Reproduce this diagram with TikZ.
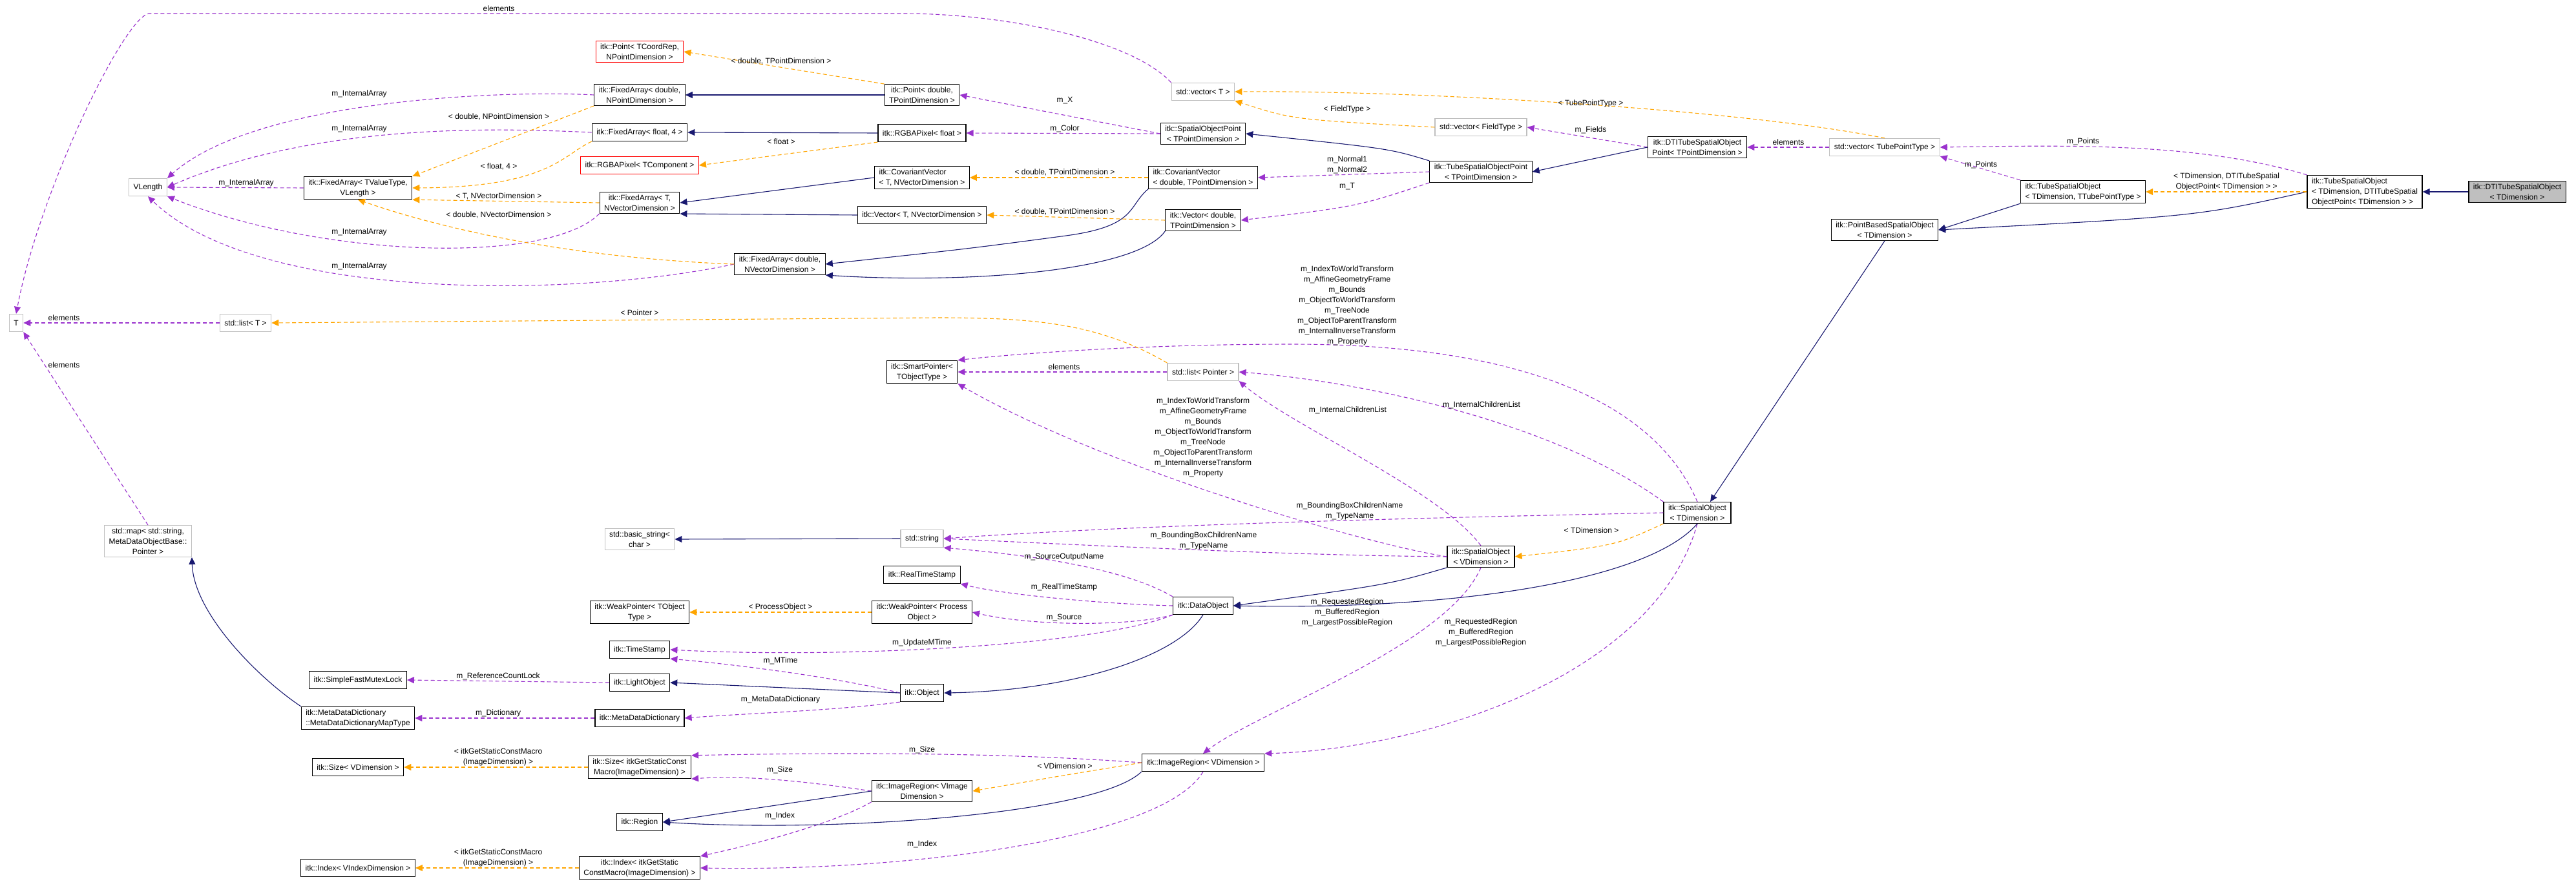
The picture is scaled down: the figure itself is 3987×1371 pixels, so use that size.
\documentclass[tikz,border=0pt]{standalone}
\usepackage{fontspec}
\setmainfont{Liberation Sans}
\usetikzlibrary{arrows.meta}
\definecolor{purp}{HTML}{9A32CD}
\definecolor{navy}{HTML}{191970}
\definecolor{orng}{HTML}{FFA500}
\begin{document}
\begin{tikzpicture}[x=1pt,y=-1pt,
  every node/.style={font=\fontsize{12}{16}\selectfont},
  box/.style={draw=black,fill=white,line width=1.2pt,align=center,inner xsep=7pt,inner ysep=4pt,minimum height=27pt},
  lbox/.style={box,align=left},
  gbox/.style={box,draw=gray!50},
  rbox/.style={box,draw=red},
  lab/.style={align=center,inner sep=0pt},
  use/.style={draw=purp,line width=1.1pt,dash pattern=on 6pt off 4pt,-{Triangle[length=11pt,width=10pt]}},
  inh/.style={draw=navy,line width=1.1pt,-{Triangle[length=11pt,width=10pt]}},
  tpl/.style={draw=orng,line width=1.1pt,dash pattern=on 6pt off 4pt,-{Triangle[length=11pt,width=10pt]}}]
\useasboundingbox (0,0) rectangle (3987,1371);
% nodes
\node[gbox] (vlen) at (229,290) {VLength};
\node[box] (faTV) at (554,291) {itk::FixedArray< TValueType,\\ VLength >};
\node[gbox] (Tn) at (25,500) {T};
\node[gbox] (listT) at (380,500) {std::list< T >};
\node[gbox] (map) at (229,838) {std::map< std::string,\\ MetaDataObjectBase::\\ Pointer >};
\node[rbox] (ptTC) at (990,80) {itk::Point< TCoordRep,\\ NPointDimension >};
\node[box] (faDNP) at (990,147) {itk::FixedArray< double,\\ NPointDimension >};
\node[box] (faF4) at (990,205) {itk::FixedArray< float, 4 >};
\node[rbox] (rgbaT) at (990,256) {itk::RGBAPixel< TComponent >};
\node[box] (faTNV) at (990,314) {itk::FixedArray< T,\\ NVectorDimension >};
\node[gbox] (bstr) at (990,835) {std::basic\_string<\\ char >};
\node[box] (wpT) at (990,948) {itk::WeakPointer< TObject\\ Type >};
\node[box] (ts) at (990,1006) {itk::TimeStamp};
\node[box] (lo) at (990,1057) {itk::LightObject};
\node[box] (mdd) at (990,1112) {itk::MetaDataDictionary};
\node[box] (sizeG) at (990,1188) {itk::Size< itkGetStaticConst\\ Macro(ImageDimension) >};
\node[box] (region) at (990,1273) {itk::Region};
\node[box] (indexG) at (990,1344) {itk::Index< itkGetStatic\\ ConstMacro(ImageDimension) >};
\node[box] (mutex) at (554,1053) {itk::SimpleFastMutexLock};
\node[lbox] (mddmap) at (554,1112) {itk::MetaDataDictionary\\ ::MetaDataDictionaryMapType};
\node[box] (sizeV) at (554,1188) {itk::Size< VDimension >};
\node[box] (indexV) at (554,1344) {itk::Index< VIndexDimension >};
\node[box] (ptD) at (1427,147) {itk::Point< double,\\ TPointDimension >};
\node[box] (rgbaF) at (1427,206) {itk::RGBAPixel< float >};
\node[lbox] (cvT) at (1427,275) {itk::CovariantVector\\ < T, NVectorDimension >};
\node[box] (vecT) at (1427,333) {itk::Vector< T, NVectorDimension >};
\node[box] (faDNV) at (1207,409) {itk::FixedArray< double,\\ NVectorDimension >};
\node[box] (sp) at (1427,576) {itk::SmartPointer<\\ TObjectType >};
\node[gbox] (str) at (1427,834) {std::string};
\node[box] (rts) at (1427,890) {itk::RealTimeStamp};
\node[box] (wpP) at (1427,948) {itk::WeakPointer< Process\\ Object >};
\node[box] (obj) at (1427,1073) {itk::Object};
\node[box] (irVI) at (1427,1225) {itk::ImageRegion< VImage\\ Dimension >};
\node[gbox] (stdvecT) at (1862,142) {std::vector< T >};
\node[box] (sop) at (1862,207) {itk::SpatialObjectPoint\\ < TPointDimension >};
\node[lbox] (cvD) at (1862,275) {itk::CovariantVector\\ < double, TPointDimension >};
\node[box] (vecD) at (1862,341) {itk::Vector< double,\\ TPointDimension >};
\node[gbox] (listP) at (1862,576) {std::list< Pointer >};
\node[box] (dobj) at (1862,938) {itk::DataObject};
\node[box] (irV) at (1862,1181) {itk::ImageRegion< VDimension >};
\node[gbox] (vecF) at (2292,197) {std::vector< FieldType >};
\node[box] (tsop) at (2292,266) {itk::TubeSpatialObjectPoint\\ < TPointDimension >};
\node[box] (soV) at (2292,862) {itk::SpatialObject\\ < VDimension >};
\node[box] (dtsop) at (2627,228) {itk::DTITubeSpatialObject\\ Point< TPointDimension >};
\node[box] (soT) at (2627,794) {itk::SpatialObject\\ < TDimension >};
\node[gbox] (vecTP) at (2917,228) {std::vector< TubePointType >};
\node[box] (pbso) at (2917,356) {itk::PointBasedSpatialObject\\ < TDimension >};
\node[lbox] (tso) at (3224,297) {itk::TubeSpatialObject\\ < TDimension, TTubePointType >};
\node[lbox] (tsoD) at (3660,297) {itk::TubeSpatialObject\\ < TDimension, DTITubeSpatial\\ ObjectPoint< TDimension > >};
\node[box,fill=gray!50] (dtso) at (3896,297) {itk::DTITubeSpatialObject\\ < TDimension >};
% purple usage
\draw[use] (stdvecT.north west) .. controls (1750,60) and (1550,21) .. (1400,21) -- (230,21) .. controls (190,30) and (60,300) .. (Tn.north);
\node[lab] (l1) at (772,13) {elements};
\draw[use] (faDNP.west) .. controls (800,140) and (400,150) .. (vlen.north east);
\node[lab] (l2) at (556,145) {m\_InternalArray};
\draw[use] (faF4.west) .. controls (800,200) and (500,185) .. (vlen.east);
\node[lab] (l3) at (556,199) {m\_InternalArray};
\draw[use] (faTV.west) -- (vlen.east);
\node[lab] (l4) at (381,283) {m\_InternalArray};
\draw[use] (faTNV.south west) .. controls (850,410) and (500,400) .. (vlen.south east);
\node[lab] (l5) at (556,359) {m\_InternalArray};
\draw[use] (faDNV.west) .. controls (900,460) and (400,470) .. (vlen.south);
\node[lab] (l6) at (556,412) {m\_InternalArray};
\draw[use] (sop.west) -- (ptD.east);
\node[lab] (l7) at (1648,156) {m\_X};
\draw[use] (sop.west) -- (rgbaF.east);
\node[lab] (l8) at (1648,199) {m\_Color};
\draw[use] (tsop.west) -- (cvD.east);
\node[lab] (l9) at (2085,255) {m\_Normal1\\m\_Normal2};
\draw[use] (tsop.south west) .. controls (2100,320) .. (vecD.east);
\node[lab] (l10) at (2085,289) {m\_T};
\draw[use] (dtsop.west) -- (vecF.east);
\node[lab] (l11) at (2462,201) {m\_Fields};
\draw[use] (vecTP.west) -- (dtsop.east);
\node[lab] (l12) at (2768,220) {elements};
\draw[use] (tsoD.north west) .. controls (3400,220) and (3200,225) .. (vecTP.east);
\node[lab] (l13) at (3224,219) {m\_Points};
\draw[use] (tso.north west) -- (vecTP.south east);
\node[lab] (l14) at (3066,255) {m\_Points};
\draw[use] (listT.west) -- (Tn.east);
\node[lab] (l15) at (99,492) {elements};
\draw[use] (map.north) -- (Tn.south east);
\node[lab] (l16) at (99,565) {elements};
\draw[use] (listP.west) -- (sp.east);
\node[lab] (l17) at (1647,568) {elements};
\draw[use] (soT.north) .. controls (2560,620) and (2350,533) .. (2000,533) .. controls (1750,533) and (1550,550) .. (sp.north east);
\node[lab] (l18) at (2085,473) {m\_IndexToWorldTransform\\m\_AffineGeometryFrame\\m\_Bounds\\m\_ObjectToWorldTransform\\m\_TreeNode\\m\_ObjectToParentTransform\\m\_InternalInverseTransform\\m\_Property};
\draw[use] (soV.west) .. controls (2100,840) and (1700,720) .. (sp.south east);
\node[lab] (l19) at (1862,677) {m\_IndexToWorldTransform\\m\_AffineGeometryFrame\\m\_Bounds\\m\_ObjectToWorldTransform\\m\_TreeNode\\m\_ObjectToParentTransform\\m\_InternalInverseTransform\\m\_Property};
\draw[use] (soT.north west) .. controls (2400,650) and (2100,590) .. (listP.east);
\node[lab] (l20) at (2293,627) {m\_InternalChildrenList};
\draw[use] (soV.north) .. controls (2230,760) and (2000,660) .. (listP.south east);
\node[lab] (l21) at (2086,635) {m\_InternalChildrenList};
\draw[use] (soT.west) .. controls (2300,800) and (1800,810) .. (str.east);
\node[lab] (l22) at (2089,791) {m\_BoundingBoxChildrenName\\m\_TypeName};
\draw[use] (soV.west) .. controls (2000,860) and (1700,845) .. (str.east);
\node[lab] (l23) at (1863,837) {m\_BoundingBoxChildrenName\\m\_TypeName};
\draw[use] (dobj.north west) .. controls (1740,880) and (1600,860) .. (str.south east);
\node[lab] (l24) at (1647,863) {m\_SourceOutputName};
\draw[use] (dobj.west) .. controls (1700,935) and (1550,920) .. (rts.south east);
\node[lab] (l25) at (1647,909) {m\_RealTimeStamp};
\draw[use] (dobj.south west) .. controls (1750,970) and (1600,970) .. (wpP.east);
\node[lab] (l26) at (1647,956) {m\_Source};
\draw[use] (dobj.south west) .. controls (1700,1000) and (1300,1020) .. (ts.east);
\node[lab] (l27) at (1427,995) {m\_UpdateMTime};
\draw[use] (obj.west) .. controls (1300,1050) and (1150,1030) .. (ts.south east);
\node[lab] (l28) at (1208,1023) {m\_MTime};
\draw[use] (obj.south west) .. controls (1300,1100) and (1150,1105) .. (mdd.east);
\node[lab] (l29) at (1208,1083) {m\_MetaDataDictionary};
\draw[use] (lo.west) -- (mutex.east);
\node[lab] (l30) at (771,1047) {m\_ReferenceCountLock};
\draw[use] (mdd.west) -- (mddmap.east);
\node[lab] (l31) at (771,1104) {m\_Dictionary};
\draw[use] (irV.west) .. controls (1550,1165) and (1300,1165) .. (sizeG.north east);
\node[lab] (l32) at (1427,1161) {m\_Size};
\draw[use] (irVI.west) .. controls (1250,1210) and (1150,1200) .. (sizeG.south east);
\node[lab] (l33) at (1207,1192) {m\_Size};
\draw[use] (irVI.south west) .. controls (1300,1270) and (1200,1300) .. (indexG.north east);
\node[lab] (l34) at (1207,1263) {m\_Index};
\draw[use] (irV.south) .. controls (1800,1300) and (1400,1350) .. (indexG.east);
\node[lab] (l35) at (1427,1307) {m\_Index};
\draw[use] (soV.south) .. controls (2240,1000) and (1950,1100) .. (irV.north);
\node[lab] (l36) at (2085,948) {m\_RequestedRegion\\m\_BufferedRegion\\m\_LargestPossibleRegion};
\draw[use] (soT.south) .. controls (2560,1050) and (2200,1160) .. (irV.north east);
\node[lab] (l37) at (2292,979) {m\_RequestedRegion\\m\_BufferedRegion\\m\_LargestPossibleRegion};
% navy inheritance
\draw[inh] (ptD.west) -- (faDNP.east);
\draw[inh] (rgbaF.west) -- (faF4.east);
\draw[inh] (cvT.west) -- (faTNV.east);
\draw[inh] (vecT.west) -- (faTNV.south east);
\draw[inh] (cvD.south west) .. controls (1745,320) and (1760,350) .. (1650,365) .. controls (1500,385) .. (faDNV.east);
\draw[inh] (vecD.south west) .. controls (1760,420) and (1500,440) .. (faDNV.south east);
\draw[inh] (tsop.north west) .. controls (2150,230) .. (sop.east);
\draw[inh] (dtsop.west) -- (tsop.east);
\draw[inh] (tso.south west) -- (pbso.east);
\draw[inh] (tsoD.west) .. controls (3400,335) .. (pbso.east);
\draw[inh] (dtso.west) -- (tsoD.east);
\draw[inh] (pbso.south) -- ([xshift=20pt]soT.north);
\draw[inh] (soV.south west) .. controls (2150,905) .. (dobj.east);
\draw[inh] (soT.south) .. controls (2550,900) and (2250,945) .. (dobj.east);
\draw[inh] (dobj.south) .. controls (1820,1020) and (1650,1070) .. (obj.east);
\draw[inh] (obj.west) -- (lo.east);
\draw[inh] (str.west) -- (bstr.east);
\draw[inh] (mddmap.north west) .. controls (400,1050) and (300,950) .. (map.south east);
\draw[inh] (irVI.west) -- (region.east);
\draw[inh] (irV.south west) .. controls (1700,1260) and (1300,1290) .. (region.east);
% orange template
\draw[tpl] (ptD.north west) -- (ptTC.east);
\node[lab] (o1) at (1209,95) {< double, TPointDimension >};
\draw[tpl] (faDNP.south west) -- (faTV.north east);
\node[lab] (o2) at (772,181) {< double, NPointDimension >};
\draw[tpl] (faF4.south west) .. controls (870,240) and (850,290) .. (faTV.east);
\node[lab] (o3) at (772,258) {< float, 4 >};
\draw[tpl] (faTNV.west) -- (faTV.south east);
\node[lab] (o4) at (772,304) {< T, NVectorDimension >};
\draw[tpl] (faDNV.west) .. controls (900,400) and (700,360) .. (faTV.south);
\node[lab] (o5) at (772,333) {< double, NVectorDimension >};
\draw[tpl] (rgbaF.south west) -- (rgbaT.east);
\node[lab] (o6) at (1209,219) {< float >};
\draw[tpl] (cvD.west) -- (cvT.east);
\node[lab] (o7) at (1648,267) {< double, TPointDimension >};
\draw[tpl] (vecD.west) -- (vecT.east);
\node[lab] (o8) at (1648,328) {< double, TPointDimension >};
\draw[tpl] (vecF.west) .. controls (2000,185) .. (stdvecT.south east);
\node[lab] (o9) at (2085,169) {< FieldType >};
\draw[tpl] (vecTP.north) .. controls (2700,170) and (2200,140) .. (stdvecT.east);
\node[lab] (o10) at (2462,160) {< TubePointType >};
\draw[tpl] (tsoD.west) -- (tso.east);
\node[lab] (o11) at (3446,281) {< TDimension, DTITubeSpatial\\ObjectPoint< TDimension > >};
\draw[tpl] (listP.north west) .. controls (1700,500) and (1600,492) .. (1450,492) -- (listT.east);
\node[lab] (o12) at (990,484) {< Pointer >};
\draw[tpl] (soT.south west) .. controls (2500,845) .. (soV.east);
\node[lab] (o13) at (2463,821) {< TDimension >};
\draw[tpl] (wpP.west) -- (wpT.east);
\node[lab] (o14) at (1208,940) {< ProcessObject >};
\draw[tpl] (sizeG.west) -- (sizeV.east);
\node[lab] (o15) at (771,1172) {< itkGetStaticConstMacro\\(ImageDimension) >};
\draw[tpl] (indexG.west) -- (indexV.east);
\node[lab] (o16) at (771,1328) {< itkGetStaticConstMacro\\(ImageDimension) >};
\draw[tpl] (irV.west) .. controls (1650,1200) .. (irVI.east);
\node[lab] (o17) at (1648,1186) {< VDimension >};
\end{tikzpicture}
\end{document}
